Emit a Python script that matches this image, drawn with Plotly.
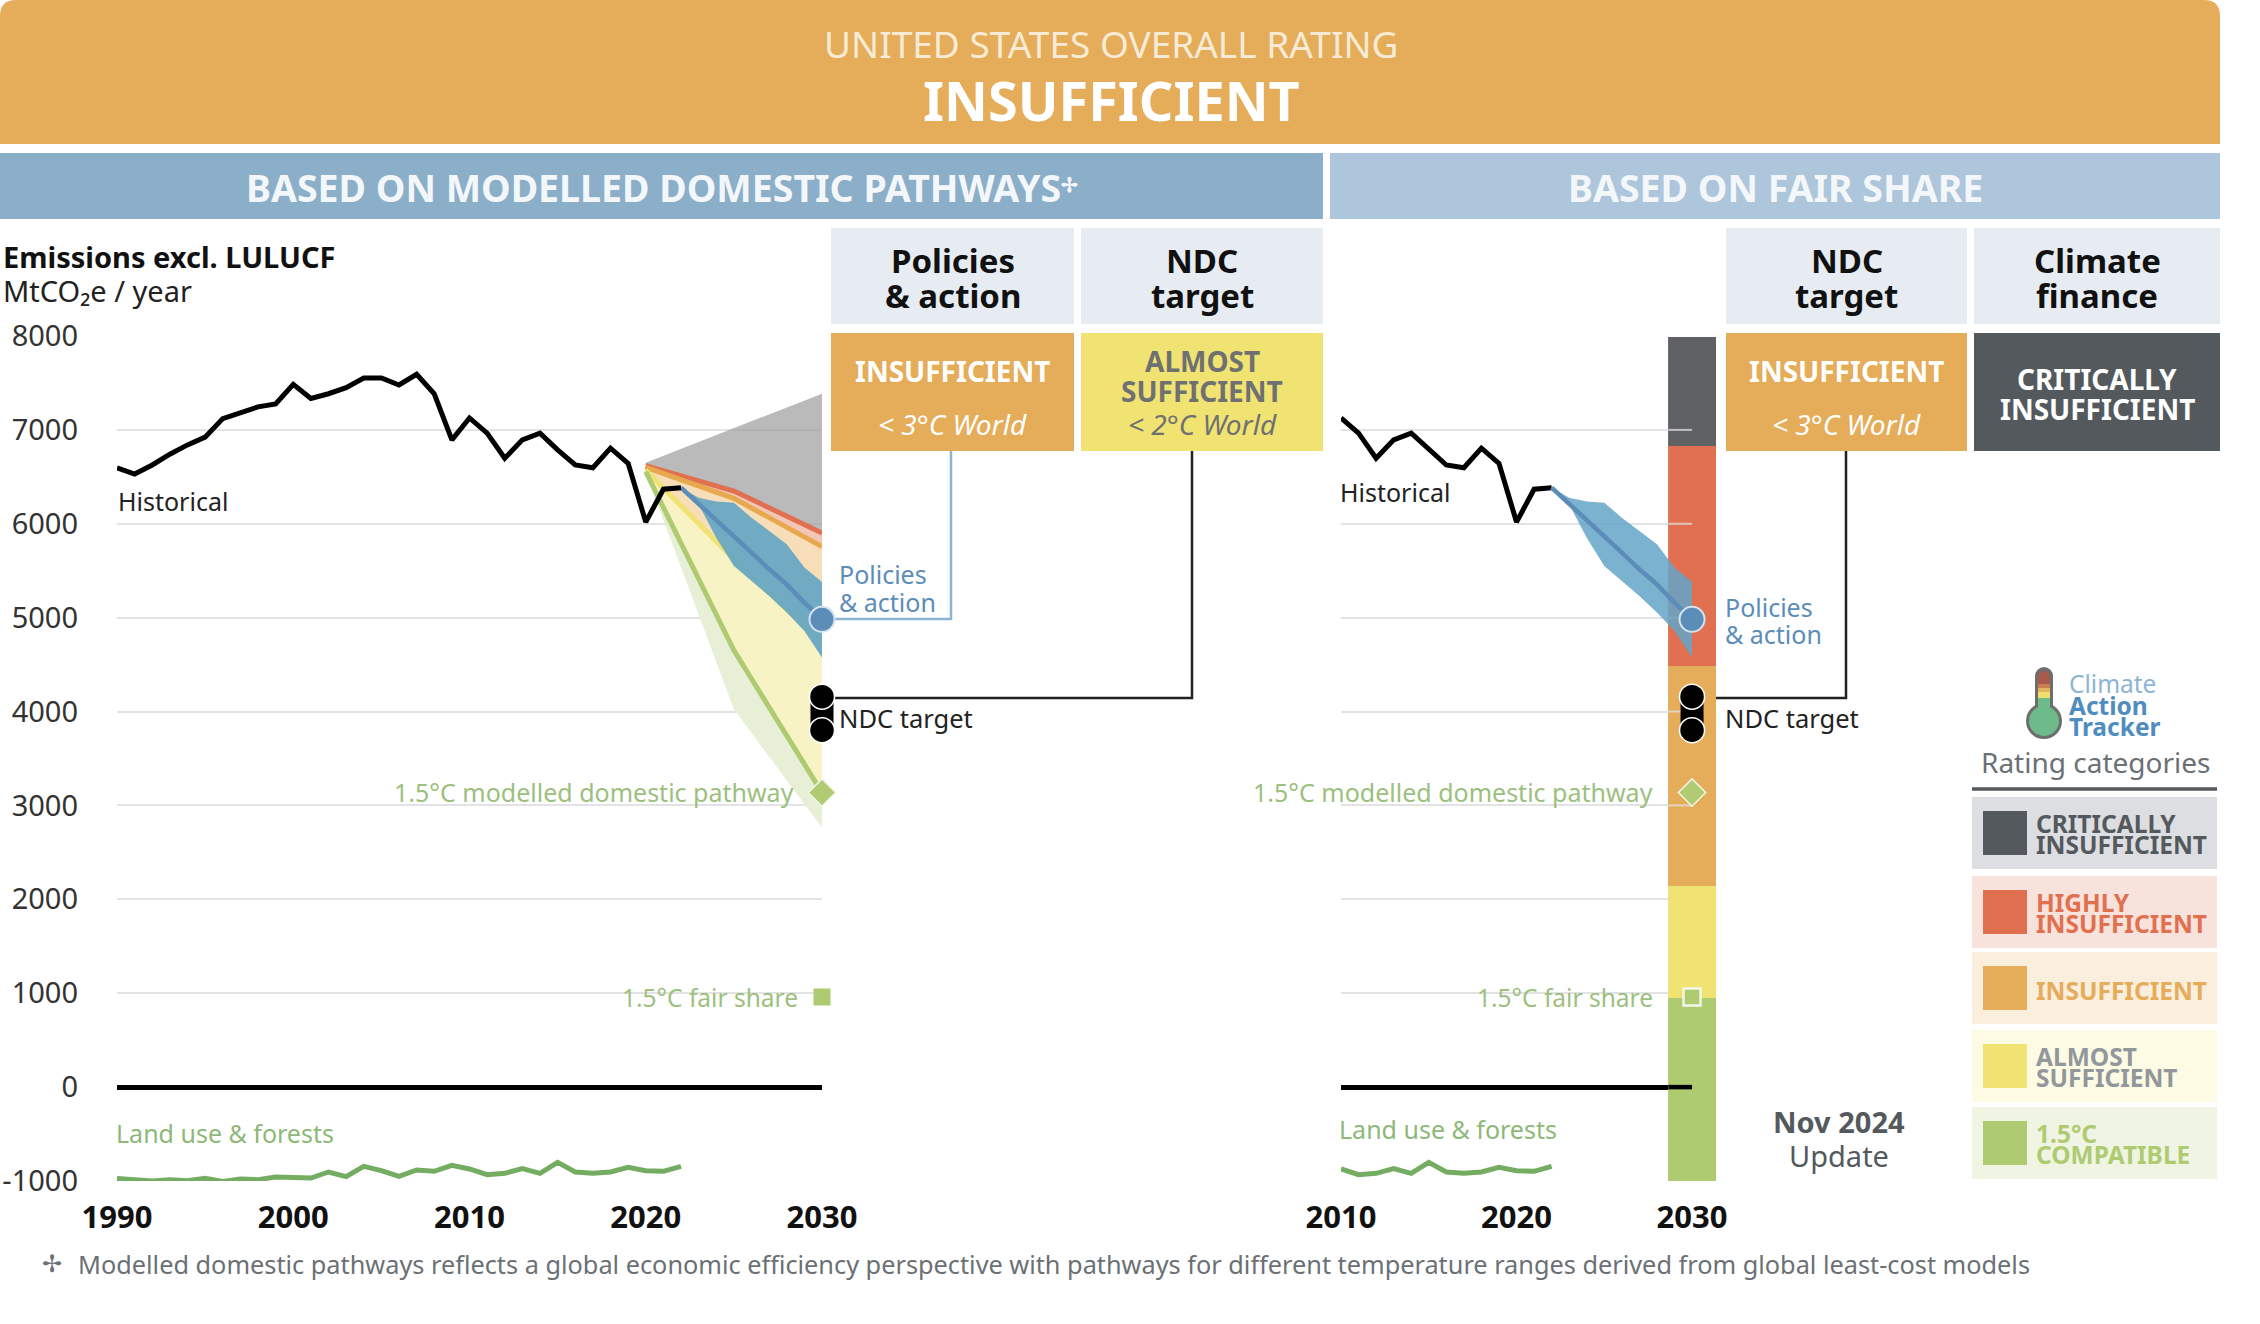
import plotly.graph_objects as go

W, H = 2260, 1324
FONT = "Noto Sans"

# ---------- data ----------
hist_years = list(range(1990, 2023))
hist_values = [6597, 6530, 6626, 6741, 6840, 6923, 7120, 7177, 7245, 7277, 7485, 7335, 7385, 7449, 7553,
               7553, 7478, 7592, 7385, 6894, 7127, 6966, 6698, 6894, 6966, 6787, 6626, 6597, 6805, 6644,
               6018, 6368, 6383]
land_values = [-972, -986, -1000, -986, -997, -972, -1004, -979, -986, -958, -968, -968, -904, -954, -844,
               -890, -950, -883, -897, -833, -872, -933, -918, -869, -918, -801, -904, -918, -904, -854,
               -890, -897, -844]
path_years = [2020, 2025, 2030]
gray_top = [6651, 7018, 7386]
red_line = [6619, 6349, 5902]
orange_line = [6600, 6271, 5757]
yellow_line = [6570, 5622, 4734]
green_line = [6555, 4653, 3137]
green_low = [6545, 4024, 2764]
pa_years = [2022, 2023, 2024, 2025, 2026, 2027, 2028, 2029, 2030]
pa_high = [6385, 6278, 6236, 6225, 6065, 5923, 5782, 5533, 5380]
pa_low = [6385, 6207, 5852, 5551, 5391, 5231, 5054, 4859, 4575]
pa_mid = [6385, 6215, 6048, 5870, 5693, 5515, 5355, 5160, 4983]
ndc_values = [4159, 3801]
ndc_mid = [3980]
policy_marker = [4983]
pathway_marker = [3137]
fair_share = [960]
rating_low = [-1000, 950, 2143, 4486, 6829]
rating_high = [950, 2143, 4486, 6829, 7990]
rating_colors = ["#AFCB72", "#F0E372", "#E5AC5A", "#E0704F", "#5F6164"]
y_ticks = [8000, 7000, 6000, 5000, 4000, 3000, 2000, 1000, 0, -1000]
y_tick_text = ["8000", "7000", "6000", "5000", "4000", "3000", "2000", "1000", "0", "-1000"]
x_ticks_left = [1990, 2000, 2010, 2020, 2030]
x_ticks_right = [2010, 2020, 2030]
legend_names = [("CRITICALLY", "INSUFFICIENT"), ("HIGHLY", "INSUFFICIENT"), ("INSUFFICIENT",),
                ("ALMOST", "SUFFICIENT"), ("1.5°C", "COMPATIBLE")]

# ---------- helpers ----------
px = lambda x: x / W
py = lambda y: 1 - y / H
shapes, annos = [], []


def rect(x0, y0, x1, y1, color, line=None):
    shapes.append(dict(type="rect", xref="paper", yref="paper", x0=px(x0), x1=px(x1), y0=py(y1), y1=py(y0),
                       fillcolor=color, line=dict(width=0) if line is None else line, layer="below"))


def disc(cx, cy, rad, color, line=None):
    shapes.append(dict(type="circle", xref="paper", yref="paper", x0=px(cx - rad), x1=px(cx + rad),
                       y0=py(cy + rad), y1=py(cy - rad), fillcolor=color,
                       line=dict(width=0) if line is None else line, layer="below"))


def seg(points, color, width):
    path = "M" + " L".join(f"{px(a)},{py(b)}" for a, b in points)
    shapes.append(dict(type="path", xref="paper", yref="paper", path=path, line=dict(color=color, width=width),
                       layer="below"))


def text(x, y, s, size, color="#222", bold=False, italic=False, anchor="center"):
    annos.append(dict(x=px(x), y=py(y), xref="paper", yref="paper", text=s, showarrow=False, xanchor=anchor,
                      yanchor="middle", align=anchor,
                      font=dict(family=FONT, size=size, color=color, weight=700 if bold else 400,
                                style="italic" if italic else "normal")))


# ---------- header furniture ----------
r = 16
shapes.append(dict(type="path", xref="paper", yref="paper", layer="below", fillcolor="#E5AC5A", line=dict(width=0),
                   path=f"M{px(0)},{py(144)} L{px(0)},{py(r)} Q{px(0)},{py(0)} {px(r)},{py(0)} "
                        f"L{px(2220 - r)},{py(0)} Q{px(2220)},{py(0)} {px(2220)},{py(r)} L{px(2220)},{py(144)} Z"))
text(1111, 43, "UNITED STATES OVERALL RATING", 37, "#F8EBD6")
text(1111, 100, "INSUFFICIENT", 54, "#FFFFFF", bold=True)
rect(0, 153, 1323, 219, "#8BAEC9")
rect(1330, 153, 2220, 219, "#ADC6DB")
text(653, 187, "BASED ON MODELLED DOMESTIC PATHWAYS", 37.5, "#F4F7FA", bold=True)
text(1069, 185, "✢", 20, "#F4F7FA", bold=True)
text(1775, 187, "BASED ON FAIR SHARE", 37.5, "#F4F7FA", bold=True)

for x0, x1, l1, l2 in [(831, 1074, "Policies", "&amp; action"), (1081, 1323, "NDC", "target"),
                       (1726, 1967, "NDC", "target"), (1974, 2220, "Climate", "finance")]:
    rect(x0, 228, x1, 324, "#E6ECF2")
    cx = (x0 + x1) / 2
    text(cx, 260, l1, 33, "#111", bold=True)
    text(cx, 295, l2, 33, "#111", bold=True)

rect(831, 333, 1074, 451, "#E5AC5A")
rect(1081, 333, 1323, 451, "#F0E372")
rect(1726, 333, 1967, 451, "#E5AC5A")
rect(1974, 333, 2220, 451, "#54595E")
text(952, 371, "INSUFFICIENT", 28, "#FFFFFF", bold=True)
text(952, 424, "&lt; 3°C World", 28, "#FFFFFF", italic=True)
text(1202, 361, "ALMOST", 28, "#6E7072", bold=True)
text(1202, 391, "SUFFICIENT", 28, "#6E7072", bold=True)
text(1202, 424, "&lt; 2°C World", 28, "#6E7072", italic=True)
text(1846, 371, "INSUFFICIENT", 28, "#FFFFFF", bold=True)
text(1846, 424, "&lt; 3°C World", 28, "#FFFFFF", italic=True)
text(2097, 379, "CRITICALLY", 28, "#FFFFFF", bold=True)
text(2097, 409, "INSUFFICIENT", 28, "#FFFFFF", bold=True)

# connectors
seg([(951, 451), (951, 619), (822, 619)], "#8DB4D2", 2.5)
seg([(1192, 451), (1192, 698), (822, 698)], "#222222", 2.5)
seg([(1846, 451), (1846, 698), (1692, 698)], "#222222", 2.5)

# ---------- chart labels ----------
GREEN_T = "#9CC07E"
BLUE_T = "#5B8DB8"
text(1, 257, "Emissions excl. LULUCF", 29, "#111", bold=True, anchor="left")
text(1, 290, "MtCO₂e / year", 29, "#222", anchor="left")
text(116, 501, "Historical", 25, "#222", anchor="left")
text(1338, 492, "Historical", 25, "#222", anchor="left")
text(837, 574, "Policies", 25, BLUE_T, anchor="left")
text(837, 602, "&amp; action", 25, BLUE_T, anchor="left")
text(1723, 607, "Policies", 25, BLUE_T, anchor="left")
text(1723, 634, "&amp; action", 25, BLUE_T, anchor="left")
text(837, 718, "NDC target", 25.5, "#222", anchor="left")
text(1723, 718, "NDC target", 25.5, "#222", anchor="left")
text(796, 792, "1.5°C modelled domestic pathway", 25, GREEN_T, anchor="right")
text(1655, 792, "1.5°C modelled domestic pathway", 25, GREEN_T, anchor="right")
text(800, 997, "1.5°C fair share", 24.5, GREEN_T, anchor="right")
text(1655, 997, "1.5°C fair share", 24.5, GREEN_T, anchor="right")
text(114, 1133, "Land use &amp; forests", 25, "#8DB877", anchor="left")
text(1337, 1129, "Land use &amp; forests", 25, "#8DB877", anchor="left")
text(1839, 1121, "Nov 2024", 29, "#54595E", bold=True)
text(1839, 1155, "Update", 29, "#54595E")
text(52, 1262, "✢", 24, "#6B7075")
text(76, 1264, "Modelled domestic pathways reflects a global economic efficiency perspective with pathways for "
                "different temperature ranges derived from global least-cost models", 25.3, "#6B7075", anchor="left")

# ---------- logo and rating legend ----------
GR = "#6E6E6E"
rect(2035, 676, 2053, 715, GR)
disc(2044, 676, 9, GR)
disc(2044, 721, 16.5, "#6DBB8A", dict(color=GR, width=3))
disc(2044, 677, 6, "#A85A4A")
rect(2038, 677, 2050, 684, "#A85A4A")
rect(2038, 684, 2050, 688, "#C97F50")
rect(2038, 688, 2050, 692, "#E3B35E")
rect(2038, 692, 2050, 698, "#EFE06E")
rect(2038, 698, 2050, 716, "#6DBB8A")
text(2067, 683, "Climate", 24.5, "#8DB4D2", anchor="left")
text(2067, 705, "Action", 24.5, "#4F8DBE", bold=True, anchor="left")
text(2067, 727, "Tracker", 24.5, "#4F8DBE", bold=True, anchor="left")
text(2095, 762, "Rating categories", 28, "#6B7075")
seg([(1972, 789), (2217, 789)], "#54595E", 3.5)

leg_y = [797, 876, 952, 1030, 1107]
leg_bg = ["#DCDEE1", "#F8E2DC", "#FAEEDD", "#FDFBE4", "#EFF4E3"]
leg_sw = ["#54595E", "#E0704F", "#E5AC5A", "#F0E372", "#AFCB72"]
leg_tx = ["#54595E", "#E0704F", "#E5AC5A", "#92979C", "#AFCB72"]
for y0, bg, sw, tc, names in zip(leg_y, leg_bg, leg_sw, leg_tx, legend_names):
    rect(1972, y0, 2217, y0 + 72, bg)
    rect(1983, y0 + 14, 2027, y0 + 58, sw)
    if len(names) == 1:
        text(2034, y0 + 38, names[0], 24.5, tc, bold=True, anchor="left")
    else:
        text(2034, y0 + 26, names[0], 24.5, tc, bold=True, anchor="left")
        text(2034, y0 + 47, names[1], 24.5, tc, bold=True, anchor="left")

# ---------- traces ----------
fig = go.Figure()


def band(xs, high, low, color, xa, ya):
    fig.add_trace(go.Scatter(x=xs + xs[::-1], y=high + low[::-1], mode="lines", fill="toself", fillcolor=color,
                             line=dict(width=0), xaxis=xa, yaxis=ya, hoverinfo="skip"))


def line(xs, ys, color, width, xa, ya):
    fig.add_trace(go.Scatter(x=xs, y=ys, mode="lines", line=dict(color=color, width=width), xaxis=xa, yaxis=ya))


def marks(xs, ys, symbol, size, color, edge, edge_w, xa, ya):
    fig.add_trace(go.Scatter(x=xs, y=ys, mode="markers", xaxis=xa, yaxis=ya, cliponaxis=False,
                             marker=dict(symbol=symbol, size=size, color=color, line=dict(color=edge, width=edge_w))))


# left panel
band(path_years, gray_top, red_line, "rgba(160,160,160,0.72)", "x", "y")
band(path_years, red_line, orange_line, "#F4C6B8", "x", "y")
band(path_years, orange_line, yellow_line, "#F8DEB8", "x", "y")
band(path_years, green_line, green_low, "#E7EFD6", "x", "y")
band(path_years, yellow_line, green_line, "#F8F3C4", "x", "y")
line(path_years, red_line, "#E0704F", 5, "x", "y")
line(path_years, orange_line, "#E8A94E", 5, "x", "y")
line(path_years, yellow_line, "#F0E372", 5, "x", "y")
line(path_years, green_line, "#AFCB72", 5, "x", "y")
band(pa_years, pa_high, pa_low, "rgba(100,165,195,0.92)", "x", "y")
line(pa_years, pa_mid, "#5B8DB8", 4.5, "x", "y")
line(hist_years, hist_values, "#000000", 5, "x", "y")
line(hist_years, land_values, "#74AC62", 5, "x", "y")
marks([2030], ndc_mid, "square", 23, "#000000", "#000000", 0, "x", "y")
marks([2030, 2030], ndc_values, "circle", 25, "#000000", "#FFFFFF", 1.5, "x", "y")
marks([2030], policy_marker, "circle", 25, "#5B8DB8", "#D5E3EE", 2, "x", "y")
marks([2030], pathway_marker, "diamond", 21, "#B0CB72", "#F2F6E6", 1.5, "x", "y")
marks([2030], fair_share, "square", 17, "#AFCB72", "#AFCB72", 0, "x", "y")

# right panel
for lo, hi, col in zip(rating_low, rating_high, rating_colors):
    fig.add_trace(go.Bar(x=[2030], y=[hi - lo], base=[lo], width=[2.73], marker=dict(color=col, line=dict(width=0)),
                         xaxis="x2", yaxis="y2", cliponaxis=False))
for gv in [7000, 6000, 5000, 4000, 3000]:
    line([2028.65, 2030], [gv, gv], "rgba(225,225,225,0.75)", 2, "x2", "y2")
line([2028.65, 2030], [0, 0], "#000000", 4.5, "x2", "y2")
line(hist_years[20:], hist_values[20:], "#000000", 5, "x2", "y2")
line(hist_years[20:], land_values[20:], "#74AC62", 5, "x2", "y2")
band(pa_years, pa_high, pa_low, "rgba(100,165,200,0.85)", "x2", "y2")
line(pa_years, pa_mid, "#5B8DB8", 4.5, "x2", "y2")
marks([2030], ndc_mid, "square", 23, "#000000", "#000000", 0, "x2", "y2")
marks([2030, 2030], ndc_values, "circle", 25, "#000000", "#FFFFFF", 1.5, "x2", "y2")
marks([2030], policy_marker, "circle", 25, "#5B8DB8", "#D5E3EE", 2, "x2", "y2")
marks([2030], pathway_marker, "diamond", 21, "#B0CB72", "#F2F6E6", 1.5, "x2", "y2")
marks([2030], fair_share, "square", 17, "#AFCB72", "#F2F6E6", 2.5, "x2", "y2")

# ---------- layout ----------
y_common = dict(range=[-1000, 8000], domain=[py(1181), py(336)], tickmode="array", tickvals=y_ticks,
                showgrid=True, gridcolor="#E3E3E3", gridwidth=2, zeroline=True, zerolinecolor="#000000",
                zerolinewidth=4.5, showline=False, ticks="")
x_common = dict(showgrid=False, zeroline=False, showline=False, ticks="", tickmode="array",
                tickfont=dict(family=FONT, size=31, color="#111", weight=700), ticklabelstandoff=15)
fig.update_layout(
    width=W, height=H, margin=dict(l=0, r=0, t=0, b=0, autoexpand=False), paper_bgcolor="#FFFFFF",
    plot_bgcolor="rgba(0,0,0,0)", showlegend=False, barmode="overlay", hovermode=False,
    font=dict(family=FONT),
    xaxis=dict(range=[1990, 2030], domain=[px(117), px(822)], anchor="y", tickvals=x_ticks_left, **x_common),
    yaxis=dict(anchor="x", ticktext=y_tick_text, tickfont=dict(family=FONT, size=29, color="#333"),
               ticklabelstandoff=38, **y_common),
    # the right axis runs on past 2030 so the rating column keeps its full width
    xaxis2=dict(range=[2010, 2031.365], domain=[px(1341), px(1716)], anchor="y2", tickvals=x_ticks_right, **x_common),
    yaxis2=dict(anchor="x2", showticklabels=False, **y_common),
    shapes=shapes, annotations=annos,
)
fig.write_html("out.html", config={"displayModeBar": False}, post_script="document.body.style.margin='0';")
